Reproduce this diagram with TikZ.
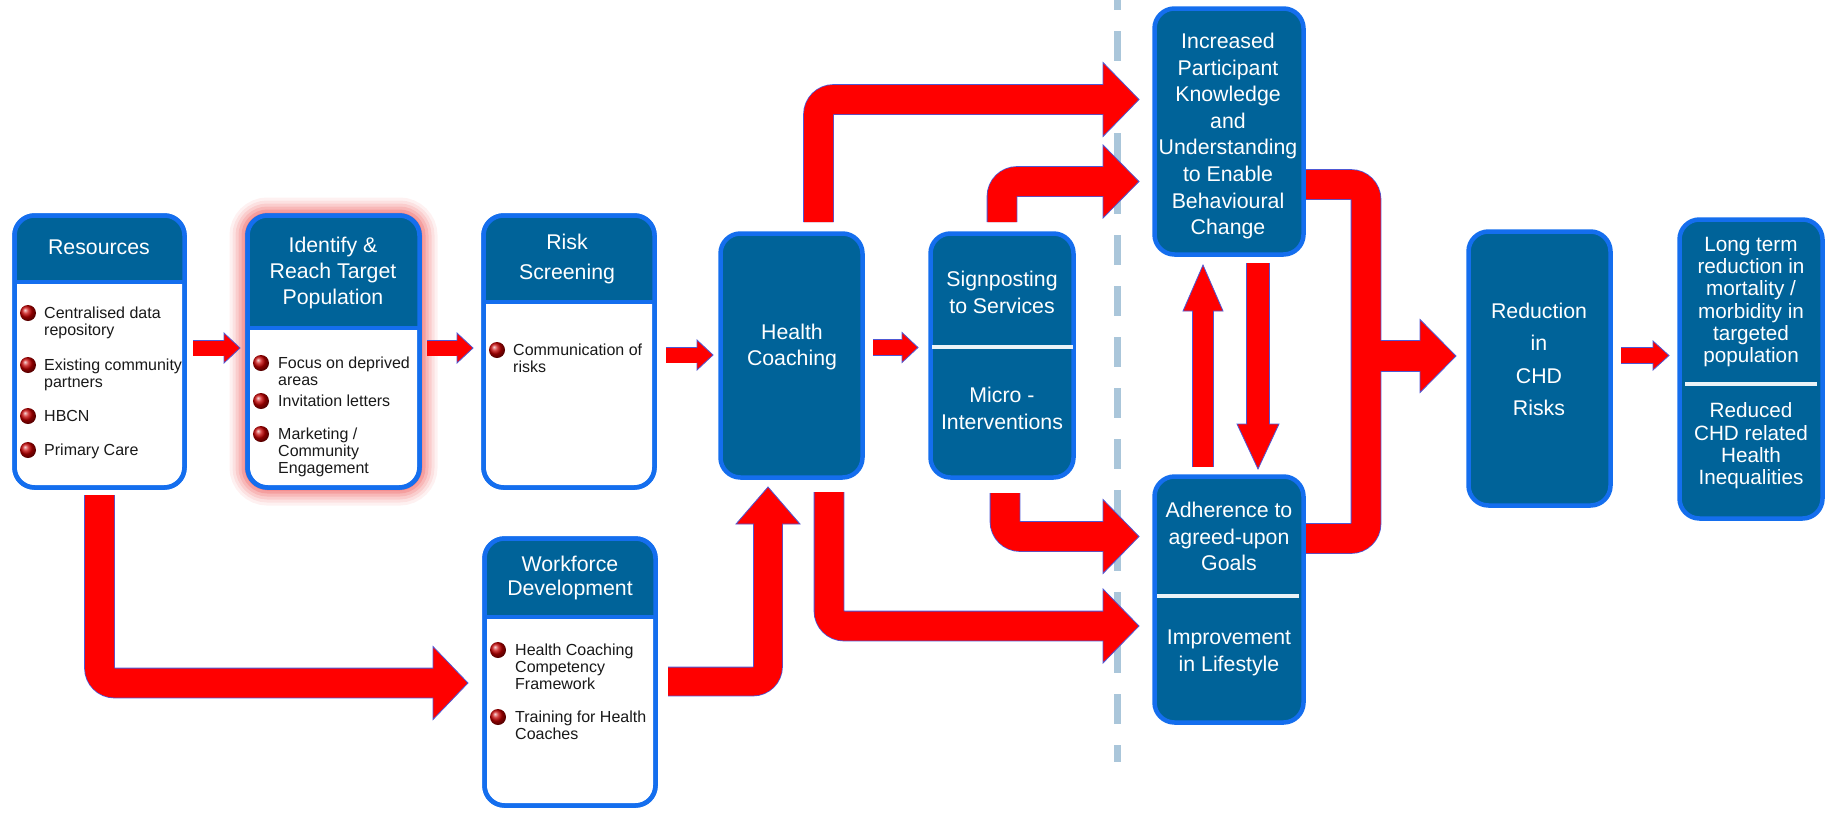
\documentclass[tikz,border=0pt]{standalone}
\usepackage{fontspec}
\setmainfont{Liberation Sans}
\usetikzlibrary{calc,backgrounds}
\definecolor{boxfill}{RGB}{0,99,153}
\definecolor{boxline}{RGB}{20,110,238}
\definecolor{arrred}{RGB}{255,0,0}
\definecolor{arrline}{RGB}{78,88,212}
\definecolor{dashc}{RGB}{170,198,218}
\definecolor{bulc}{RGB}{25,25,25}
\definecolor{glowc}{RGB}{235,60,60}
\newcommand\ahead[5]{%
  \begin{scope}[shift={#1},rotate=#2]
    \fill[arrred] (-#3,-#5) -- (-#3,-#4) -- (0,0) -- (-#3,#4) -- (-#3,#5) -- cycle;
    \draw[arrline,line width=0.8pt,line join=miter] (-#3,-#5) -- (-#3,-#4) -- (0,0) -- (-#3,#4) -- (-#3,#5);
  \end{scope}}
\newcommand\shaft[2]{\draw[shout=#1+1.6] #2; \draw[shred=#1] #2;}
\newcommand\hdr[2]{%
  \begin{scope}
    \clip[rounded corners=20pt] (#1.south west) rectangle (#1.north east);
    \fill[boxfill] (#1.north west) rectangle (#1.east |- 0,#2);
  \end{scope}
  \draw[boxline,line width=4pt] (#1.west |- 0,#2) -- (#1.east |- 0,#2);
  \draw[boxline,line width=4.5pt,rounded corners=20pt] (#1.south west) rectangle (#1.north east);}
\newcommand\bul[2]{\shade[ball color=red!78!black] (#1) circle[radius=8pt];}
\begin{document}
\begin{tikzpicture}[x=1pt,y=-1pt,
  wbox/.style={draw=boxline,fill=white,line width=4.5pt,rounded corners=20pt,inner sep=0pt,outer sep=0pt},
  dbox/.style={draw=boxline,fill=boxfill,line width=4.5pt,rounded corners=20pt,inner sep=0pt,outer sep=0pt},
  htxt/.style={text=white,font=\fontsize{21.3}{26}\selectfont,align=center,inner sep=0pt},
  btxt/.style={text=bulc,font=\fontsize{16}{17}\selectfont,align=left,inner sep=0pt,anchor=north west},
  sepl/.style={draw=white!92!boxfill,line width=4.5pt},
  shout/.style={draw=arrline,line width=#1,rounded corners=15pt},
  shred/.style={draw=arrred,line width=#1,rounded corners=15pt},
]
\useasboundingbox (0,0) rectangle (1828,812);

% dashed divider
\draw[dashc,line width=7pt,dash pattern=on 30pt off 21pt] (1117,-20) -- (1117,762);

% boxes
\node[wbox,minimum width=170pt,minimum height=272pt] (res) at (99.5,351.5) {};
\node[wbox,minimum width=172pt,minimum height=272pt] (ident) at (333.5,351.5) {};
\node[wbox,minimum width=171pt,minimum height=272pt] (risk) at (569,351.5) {};
\node[wbox,minimum width=171pt,minimum height=267pt] (work) at (570,672) {};
\node[dbox,minimum width=142pt,minimum height=244pt] (health) at (791.5,355.5) {};
\node[dbox,minimum width=143pt,minimum height=244pt] (sign) at (1002,355.5) {};
\node[dbox,minimum width=149pt,minimum height=246pt] (incr) at (1229,131.5) {};
\node[dbox,minimum width=149pt,minimum height=246pt] (adher) at (1229,599.5) {};
\node[dbox,minimum width=142pt,minimum height=274pt] (reduc) at (1539.5,368.5) {};
\node[dbox,minimum width=143pt,minimum height=299pt] (longt) at (1751,369) {};

\begin{scope}[on background layer]
\foreach \d/\o in {18/0.07,15/0.09,12/0.12,9/0.15,6/0.2,3/0.25}{
  \draw[glowc,opacity=\o,line width=2*\d,rounded corners=20pt] (ident.south west) rectangle (ident.north east);
}
\end{scope}

\hdr{res}{282}
\hdr{ident}{328}
\hdr{risk}{302}
\hdr{work}{617}

% header / box texts
\node[htxt] (resT) at (99,247) {Resources};
\node[htxt] (idT) at (333,273) {Identify \&\\Reach Target\\Population};
\node[htxt,font=\fontsize{21.3}{29.5}\selectfont] (riskT) at (567,259) {Risk\\Screening};
\node[htxt,font=\fontsize{21.3}{23.5}\selectfont] (workT) at (570,578) {Workforce\\Development};
\node[htxt] (hcT) at (792,347) {Health\\Coaching};
\node[htxt,font=\fontsize{21.3}{27}\selectfont] (sgT) at (1002,292.5) {Signposting\\to Services};
\node[htxt,font=\fontsize{21.3}{27}\selectfont] (miT) at (1002,408.5) {Micro -\\Interventions};
\node[htxt,font=\fontsize{21.3}{26.6}\selectfont] (inT) at (1228,136) {Increased\\Participant\\Knowledge\\and\\Understanding\\to Enable\\Behavioural\\Change};
\node[htxt,font=\fontsize{21.3}{26.5}\selectfont] (adT) at (1229,536.5) {Adherence to\\agreed-upon\\Goals};
\node[htxt,font=\fontsize{21.3}{27}\selectfont] (imT) at (1229,653) {Improvement\\in Lifestyle};
\node[htxt,font=\fontsize{21.3}{32.5}\selectfont] (rdT) at (1539,359.5) {Reduction\\in\\CHD\\Risks};
\node[htxt,font=\fontsize{20.7}{22.3}\selectfont] (ltT) at (1751,302) {Long term\\reduction in\\mortality /\\morbidity in\\targeted\\population};
\node[htxt,font=\fontsize{20.7}{22.3}\selectfont] (rcT) at (1751,446) {Reduced\\CHD related\\Health\\Inequalities};

% separators
\draw[sepl] (932,347) -- (1073,347);
\draw[sepl] (1157,596) -- (1299,596);
\draw[sepl] (1685,384) -- (1817,384);

% bullets
\bul{28,313}{} \node[btxt] (r1) at (44,307) {Centralised data\\repository};
\bul{28,365}{} \node[btxt] (r2) at (44,359) {Existing community\\partners};
\bul{28,416}{} \node[btxt] (r3) at (44,410) {HBCN};
\bul{28,450}{} \node[btxt] (r4) at (44,444) {Primary Care};
\bul{261,363}{} \node[btxt] (i1) at (278,357) {Focus on deprived\\areas};
\bul{261,401}{} \node[btxt] (i2) at (278,395) {Invitation letters};
\bul{261,434}{} \node[btxt] (i3) at (278,428) {Marketing /\\Community\\Engagement};
\bul{497,350}{} \node[btxt] (s1) at (513,344) {Communication of\\risks};
\bul{498,650}{} \node[btxt] (w1) at (515,644) {Health Coaching\\Competency\\Framework};
\bul{498,717}{} \node[btxt] (w2) at (515,711) {Training for Health\\Coaches};

% small arrows
\shaft{15}{($(res.east)+(8.5,-3.5)$) -- (224.5,348)}
\ahead{(240,348)}{0}{16}{15}{7.5}
\shaft{15}{($(ident.east)+(7.5,-3.5)$) -- (457.5,348)}
\ahead{(473,348)}{0}{16}{15}{7.5}
\shaft{15}{($(risk.east)+(11.5,3.5)$) -- (697.5,355)}
\ahead{(713,355)}{0}{16}{15}{7.5}
\shaft{15}{($(health.east)+(10.5,-8)$) -- (902.5,347.5)}
\ahead{(918,347.5)}{0}{16}{15}{7.5}
\shaft{15}{($(reduc.east)+(10.5,-13)$) -- (1653.5,355.5)}
\ahead{(1669,355.5)}{0}{16}{14.5}{7.5}

% big L arrows
\shaft{29}{($(res.south)+(0,7.5)$) |- (433.5,683)}
\ahead{(468,683)}{0}{35}{36.5}{14.5}
\shaft{28}{($(work.east)+(12.5,9.5)$) -| (768,523.5)}
\ahead{(768,487)}{90}{37}{32}{14}
\shaft{29}{($(health.north)+(27,-11.5)$) |- (1103.5,99.5)}
\ahead{(1139,99.5)}{0}{36}{37}{14.5}
\shaft{29}{($(sign.north)+(0,-11.5)$) |- (1103.5,181.5)}
\ahead{(1139,181.5)}{0}{36}{36.5}{14.5}
\shaft{29}{($(health.south)+(37.5,14.5)$) |- (1103.5,626)}
\ahead{(1139,626)}{0}{36}{37}{14.5}
\shaft{29}{($(sign.south)+(3,15.5)$) |- (1103.5,536.5)}
\ahead{(1139,536.5)}{0}{36}{37}{14.5}

% bracket to reduction
\draw[shout=30.6] ($(incr.east)+(2.5,53)$) -| (1366,538.5) -- ($(adher.east)+(2.5,-61)$);
\draw[shout=31.6] (1366,356) -- (1420.5,356);
\draw[shred=29] ($(incr.east)+(2.5,53)$) -| (1366,538.5) -- ($(adher.east)+(2.5,-61)$);
\draw[shred=30] (1366,356) -- (1420.5,356);
\ahead{(1456,356)}{0}{36}{36.5}{15}

% vertical feedback arrows
\shaft{20}{($(adher.north)+(-26,-9.5)$) -- (1203,310.5)}
\ahead{(1203,265)}{90}{46}{20}{10}
\shaft{22}{($(incr.south)+(29,8.5)$) -- (1258,424.5)}
\ahead{(1258,469)}{-90}{45}{21}{11}
\end{tikzpicture}
\end{document}
